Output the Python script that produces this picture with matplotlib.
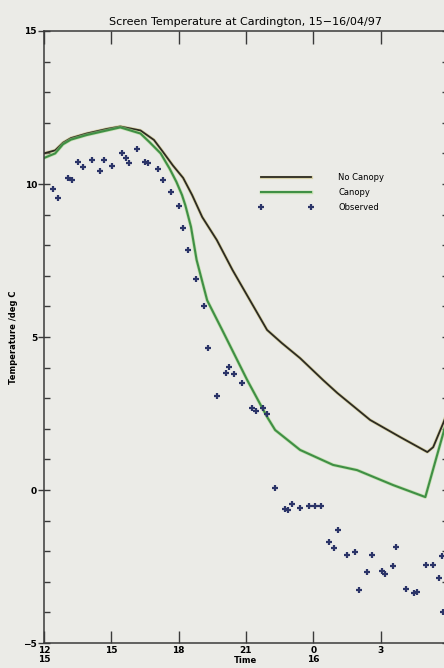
#!/usr/bin/env python

import numpy as np
import matplotlib
matplotlib.use('Agg')
import matplotlib.pyplot as plt
import matplotlib.patheffects as pe
from matplotlib.ticker import MultipleLocator

########################### data ###############################################

# time in hours from 12 UTC on 15/04 (24 = 00 on 16/04)
nc_time = [12.0, 12.5, 12.85, 13.2, 13.9, 14.8, 15.4, 16.3, 16.9, 17.3, 17.75,
           18.2, 18.6, 19.05, 19.7, 20.4, 21.94, 22.6, 23.41, 24.44, 25.07, 26.53,
           27.87, 29.08, 29.34, 29.79, 30.0]
nc_temp = [11.0, 11.1, 11.35, 11.5, 11.65, 11.8, 11.88, 11.75, 11.44, 11.05, 10.6,
           10.2, 9.64, 8.92, 8.17, 7.19, 5.23, 4.8, 4.31, 3.59, 3.17, 2.29,
           1.73, 1.24, 1.4, 2.19, 2.6]

can_time = [12.0, 12.5, 12.85, 13.2, 13.9, 14.8, 15.4, 16.3, 16.7, 17.2, 17.6,
            17.9, 18.15, 18.3, 18.55, 18.8, 19.27, 19.94, 21.05, 21.94, 22.3,
            23.41, 24.88, 25.95, 27.56, 28.99, 29.79, 30.0]
can_temp = [10.85, 11.0, 11.3, 11.45, 11.6, 11.75, 11.85, 11.65, 11.37, 11.0, 10.5,
            10.07, 9.64, 9.3, 8.6, 7.52, 6.2, 5.23, 3.6, 2.39, 1.96,
            1.31, 0.82, 0.65, 0.16, -0.23, 1.86, 2.4]

obs_time = [12.40, 12.62, 13.07, 13.25, 13.52, 13.74, 14.14, 14.50, 14.67, 15.03,
            15.48, 15.66, 15.79, 16.15, 16.50, 16.64, 17.08, 17.31, 17.66, 18.02,
            18.20, 18.42, 18.78, 19.13, 19.31, 20.25, 20.11, 20.47, 20.83, 19.71,
            21.27, 21.45, 21.76, 21.94, 22.30, 22.74, 22.88, 23.06, 23.41, 23.81,
            24.08, 24.35, 25.11, 24.71, 24.93, 25.51, 25.87, 26.62, 27.69, 26.40,
            27.07, 27.21, 27.56, 26.05, 28.14, 28.50, 28.63, 29.03, 29.34, 29.61,
            29.79, 29.74]
obs_temp = [9.84, 9.54, 10.20, 10.13, 10.72, 10.56, 10.78, 10.42, 10.78, 10.59,
            11.01, 10.85, 10.69, 11.14, 10.72, 10.69, 10.49, 10.13, 9.74, 9.28,
            8.56, 7.84, 6.90, 6.01, 4.64, 4.02, 3.82, 3.79, 3.50, 3.07,
            2.68, 2.58, 2.68, 2.48, 0.07, -0.62, -0.65, -0.46, -0.59, -0.52,
            -0.52, -0.52, -1.31, -1.70, -1.90, -2.12, -2.03, -2.12, -1.86, -2.68,
            -2.65, -2.75, -2.48, -3.27, -3.24, -3.37, -3.33, -2.45, -2.45, -2.88,
            -3.99, -2.16]

xtick_pos = [12, 15, 18, 21, 24, 27]
xtick_labels = ['12\n15', '15', '18', '21', '0\n16', '3']

########################### plot settings ############################

bg_color = '#ebebe7'
nc_color = '#2c2a22'
can_color = '#3f8f45'
obs_color = '#2b3468'
axis_color = '#3a3a3a'
tick_labelsize = 6.5

plt.rcParams['font.family'] = 'DejaVu Sans'

fig = plt.figure(figsize=(4.44, 6.68), dpi=100, facecolor=bg_color)
ax = fig.add_axes([0.099, 0.0374, 0.910, 0.9162])
ax.set_facecolor(bg_color)

for side in ['top', 'bottom', 'left', 'right']:
    ax.spines[side].set_color(axis_color)
    ax.spines[side].set_linewidth(1.1)

ax.plot(nc_time, nc_temp, color=nc_color, linewidth=1.3, label='No Canopy',
        path_effects=[pe.Stroke(linewidth=2.3, foreground='#c9bf7a', alpha=0.6), pe.Normal()])
ax.plot(can_time, can_temp, color=can_color, linewidth=1.5, label='Canopy',
        path_effects=[pe.Stroke(linewidth=2.5, foreground='#a9d98a', alpha=0.6), pe.Normal()])
ax.plot(obs_time, obs_temp, linestyle='none', marker='+', markersize=5,
        markeredgewidth=1.6, color=obs_color, label='Observed')

ax.set_xlim(12, 30)
ax.set_ylim(-5, 15)

ax.set_xticks(xtick_pos)
ax.set_xticklabels(xtick_labels, fontsize=tick_labelsize, linespacing=1.05,
                   fontweight='bold')
ax.set_yticks([-5, 0, 5, 10, 15])
ax.set_yticklabels(['\u22125', '0', '5', '10', '15'], fontsize=tick_labelsize,
                   fontweight='bold')
ax.yaxis.set_minor_locator(MultipleLocator(1))

ax.tick_params(axis='x', which='major', direction='in', length=9, width=1.0,
               color=axis_color, top=True, bottom=True, pad=2)
ax.tick_params(axis='y', which='major', direction='inout', length=8, width=1.0,
               color=axis_color, left=True, right=True, pad=1)
ax.tick_params(axis='y', which='minor', direction='in', length=4, width=1.0,
               color=axis_color, left=True, right=True)

ax.set_xlabel('Time', fontsize=6, labelpad=-6, fontweight='bold')
ax.set_ylabel('Temperature /deg C', fontsize=6, labelpad=4, fontweight='bold')
ax.set_title('Screen Temperature at Cardington, 15\u221216/04/97', fontsize=8, pad=4)

leg = ax.legend(loc='upper left', bbox_to_anchor=(0.53, 0.768), frameon=False,
                fontsize=6, numpoints=2, handlelength=6.6, handletextpad=3,
                labelspacing=0.7, borderaxespad=0, borderpad=0)

fig.savefig('out.png', dpi=100, facecolor=bg_color)
